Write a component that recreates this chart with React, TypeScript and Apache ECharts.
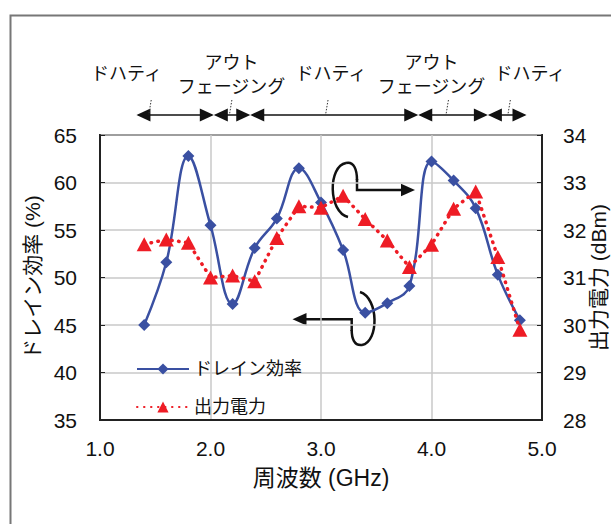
import React, { useEffect, useRef } from "react";
import * as echarts from "echarts";

const freqs = [1.4, 1.6, 1.8, 2.0, 2.2, 2.4, 2.6, 2.8, 3.0, 3.2, 3.4, 3.6, 3.8, 4.0, 4.2, 4.4, 4.6, 4.8];
const drainEff = [45.0, 51.6, 62.8, 55.5, 47.2, 53.1, 56.2, 61.5, 57.9, 52.9, 46.3, 47.3, 49.1, 62.2, 60.2, 57.3, 50.3, 45.5];
const outPower = [31.7, 31.8, 31.73, 31.0, 31.04, 30.92, 31.83, 32.5, 32.47, 32.72, 32.23, 31.78, 31.22, 31.69, 32.45, 32.81, 31.43, 29.9];
const seriesNames = ["ドレイン効率", "出力電力"];
const xTitle = "周波数 (GHz)";
const yLeftTitle = "ドレイン効率 (%)";
const yRightTitle = "出力電力 (dBm)";
// mode regions along frequency (GHz)
const regionBounds = [1.33, 2.03, 2.36, 3.88, 4.51, 4.86];
const regionTickFreqs = [1.45, 2.18, 3.05, 4.14, 4.7];
const regionLabels = [
  { lines: ["ドハティ"], f: 1.24 },
  { lines: ["アウト", "フェージング"], f: 2.19 },
  { lines: ["ドハティ"], f: 3.09 },
  { lines: ["アウト", "フェージング"], f: 4.0 },
  { lines: ["ドハティ"], f: 4.89 },
];

const FONT = "'Liberation Sans', Arial, 'Noto Sans CJK JP', sans-serif";
const GRID = { left: 100, top: 135, right: 69, bottom: 104 };
const W = 611;
const H = 524;

export default function App() {
  const ref = useRef<HTMLDivElement>(null);
  useEffect(() => {
    document.body.style.margin = "0";
    if (!ref.current) return;
    const chart = echarts.init(ref.current, null, { renderer: "svg" });
    const plotW = W - GRID.left - GRID.right;
    const plotH = H - GRID.top - GRID.bottom;
    const fx = (f: number) => GRID.left + ((f - 1) / 4) * plotW;
    const arrowY = 115;
    const graphics: any[] = [];
    graphics.push({
      type: "rect",
      shape: { x: 10.5, y: 15.5, width: 700, height: 600 },
      style: { fill: "none", stroke: "#777", lineWidth: 2 },
      silent: true,
    });
    // right axis title (placed near the right edge, as in the reference)
    graphics.push({
      type: "text",
      x: 598,
      y: GRID.top + plotH / 2,
      rotation: Math.PI / 2,
      style: { text: yRightTitle, font: `21px ${FONT}`, fill: "#111", align: "center", verticalAlign: "middle" },
    });
    // region arrows
    const ah = 14;
    const hw = 6.5;
    for (let i = 0; i < regionBounds.length - 1; i++) {
      const a = fx(regionBounds[i]);
      const b = fx(regionBounds[i + 1]);
      graphics.push({ type: "line", shape: { x1: a + 2, y1: arrowY, x2: b - 2, y2: arrowY }, style: { stroke: "#111", lineWidth: 1.5 } });
      graphics.push({ type: "polygon", shape: { points: [[a, arrowY], [a + ah, arrowY - hw], [a + ah, arrowY + hw]] }, style: { fill: "#111" } });
      graphics.push({ type: "polygon", shape: { points: [[b, arrowY], [b - ah, arrowY - hw], [b - ah, arrowY + hw]] }, style: { fill: "#111" } });
    }
    regionTickFreqs.forEach((f) => {
      const x = fx(f);
      graphics.push({ type: "line", shape: { x1: x + 1.5, y1: 100, x2: x - 1, y2: arrowY }, style: { stroke: "#333", lineWidth: 1, lineDash: [1.5, 1.5] } });
    });
    regionLabels.forEach((r) => {
      const ys = r.lines.length === 1 ? [74] : [63, 86.5];
      r.lines.forEach((t, k) => {
        graphics.push({
          type: "text",
          x: fx(r.f),
          y: ys[k],
          style: { text: t, font: `18px ${FONT}`, fill: "#111", align: "center", verticalAlign: "middle" },
        });
      });
    });
    // upper loop -> right axis
    const ls = { stroke: "#111", lineWidth: 2.5, fill: "none" };
    graphics.push({ type: "bezierCurve", shape: { x1: 348, y1: 217, cpx1: 328, cpy1: 212, cpx2: 328, cpy2: 166, x2: 346, y2: 163 }, style: ls });
    graphics.push({ type: "bezierCurve", shape: { x1: 346, y1: 163, cpx1: 354, cpy1: 161, cpx2: 357, cpy2: 170, x2: 357, y2: 180 }, style: ls });
    graphics.push({ type: "polyline", shape: { points: [[357, 179], [357, 190], [403, 190]] }, style: ls });
    graphics.push({ type: "polygon", shape: { points: [[415, 190], [401, 183.7], [401, 196.3]] }, style: { fill: "#111" } });
    // lower loop -> left axis
    graphics.push({ type: "bezierCurve", shape: { x1: 360, y1: 292, cpx1: 379, cpy1: 298, cpx2: 379, cpy2: 342, x2: 362, y2: 345 }, style: ls });
    graphics.push({ type: "bezierCurve", shape: { x1: 362, y1: 345, cpx1: 354, cpy1: 346, cpx2: 351.7, cpy2: 338, x2: 351.7, y2: 330 }, style: ls });
    graphics.push({ type: "polyline", shape: { points: [[351.7, 331], [351.7, 319.3], [305, 319.3]] }, style: ls });
    graphics.push({ type: "polygon", shape: { points: [[292.5, 319.3], [306.5, 313], [306.5, 325.6]] }, style: { fill: "#111" } });

    const axisLabelStyle = { color: "#111", fontSize: 21, fontFamily: FONT };
    chart.setOption({
      animation: false,
      backgroundColor: "#fff",
      textStyle: { fontFamily: FONT },
      grid: { ...GRID, outerBoundsMode: "none", containLabel: false, show: true, borderColor: "#222", borderWidth: 2, backgroundColor: "transparent" },
      legend: {
        orient: "vertical",
        left: 131,
        top: 355,
        itemWidth: 52,
        itemHeight: 14,
        itemGap: 20,
        textStyle: { fontSize: 18, color: "#111", fontFamily: FONT, lineHeight: 18 },
        data: seriesNames,
      },
      xAxis: {
        type: "value",
        min: 1,
        max: 5,
        interval: 1,
        name: xTitle,
        nameLocation: "middle",
        nameGap: 46,
        nameTextStyle: { fontSize: 23, color: "#111", fontFamily: FONT },
        axisLine: { show: true, lineStyle: { color: "#222", width: 2 } },
        axisTick: { show: false },
        axisLabel: { ...axisLabelStyle, margin: 18, formatter: (v: number) => v.toFixed(1) },
        splitLine: { show: true, lineStyle: { color: "#c8c8c8", width: 1.5 } },
      },
      yAxis: [
        {
          type: "value",
          min: 35,
          max: 65,
          interval: 5,
          name: yLeftTitle,
          nameLocation: "middle",
          nameRotate: 90,
          nameGap: 55,
          nameTextStyle: { fontSize: 21, color: "#111", fontFamily: FONT },
          axisLine: { show: true, lineStyle: { color: "#222", width: 2 } },
          axisTick: { show: true, inside: true, length: 5, lineStyle: { color: "#222" } },
          axisLabel: { ...axisLabelStyle, margin: 23 },
          splitLine: { show: true, lineStyle: { color: "#c8c8c8", width: 1.5 } },
        },
        {
          type: "value",
          min: 28,
          max: 34,
          interval: 1,
          position: "right",
          axisLine: { show: true, lineStyle: { color: "#222", width: 2 } },
          axisTick: { show: true, inside: true, length: 5, lineStyle: { color: "#222" } },
          axisLabel: { ...axisLabelStyle, margin: 21 },
          splitLine: { show: false },
        },
      ],
      series: [
        {
          name: seriesNames[0],
          type: "line",
          yAxisIndex: 0,
          smooth: 0.4,
          data: freqs.map((f, i) => [f, drainEff[i]]),
          symbol: "diamond",
          symbolSize: 12,
          lineStyle: { color: "#3a50a2", width: 2.5 },
          itemStyle: { color: "#3a50a2" },
          z: 2,
        },
        {
          name: seriesNames[1],
          type: "line",
          yAxisIndex: 1,
          smooth: false,
          data: freqs.map((f, i) => [f, outPower[i]]),
          symbol: "triangle",
          symbolSize: [15, 14],
          lineStyle: { color: "#ee1c25", width: 3.5, type: [0.5, 6.5], cap: "round" },
          itemStyle: { color: "#ee1c25" },
          z: 3,
        },
      ],
      graphic: graphics,
    });
    return () => chart.dispose();
  }, []);
  return <div ref={ref} style={{ width: W, height: H }} />;
}
